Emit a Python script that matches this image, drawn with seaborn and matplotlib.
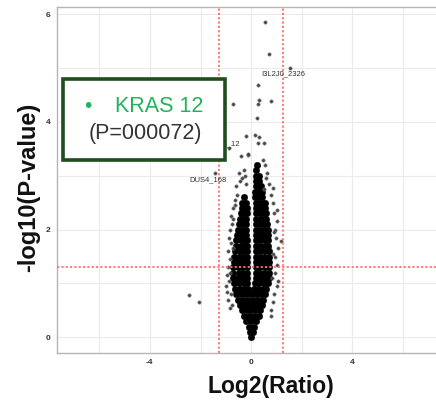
import numpy as np
import pandas as pd
import seaborn as sns
import matplotlib.pyplot as plt
from matplotlib.patches import Rectangle

## dense core of the volcano: one row of log2 ratios per -log10(p) level
core_y = [0.0, 0.1, 0.2, 0.3, 0.4, 0.5, 0.6, 0.7, 0.8, 0.9, 1.0, 1.1, 1.2, 1.3,
          1.4, 1.5, 1.6, 1.7, 1.8, 1.9, 2.0, 2.1, 2.2, 2.3, 2.4, 2.5, 2.6, 2.7,
          2.8, 2.9, 3.0, 3.1, 3.2]
core_x = [
    [0.0],
    [-0.05, 0.07],
    [-0.1, 0.1],
    [-0.2, 0.0, 0.2],
    [-0.28, -0.1, 0.1, 0.3],
    [-0.36, -0.18, 0.0, 0.18, 0.36],
    [-0.45, -0.25, -0.05, 0.15, 0.35, 0.42],
    [-0.52, -0.32, -0.12, 0.08, 0.28, 0.48],
    [-0.58, -0.4, -0.2, 0.0, 0.2, 0.4, 0.55],
    [-0.62, -0.45, -0.28, -0.12, 0.13, 0.28, 0.45, 0.6],
    [-0.66, -0.48, -0.3, -0.15, 0.16, 0.32, 0.5, 0.65],
    [-0.7, -0.52, -0.34, -0.17, 0.18, 0.34, 0.52, 0.7],
    [-0.7, -0.5, -0.32, -0.17, 0.18, 0.32, 0.5, 0.7],
    [-0.72, -0.54, -0.36, -0.18, 0.18, 0.36, 0.56, 0.72],
    [-0.68, -0.5, -0.32, -0.18, 0.18, 0.32, 0.5, 0.7],
    [-0.66, -0.48, -0.32, -0.18, 0.18, 0.34, 0.52, 0.7],
    [-0.62, -0.44, -0.3, -0.18, 0.18, 0.36, 0.54, 0.7],
    [-0.6, -0.42, -0.3, -0.18, 0.18, 0.34, 0.52, 0.68],
    [-0.58, -0.42, -0.3, -0.18, 0.18, 0.36, 0.54, 0.68],
    [-0.55, -0.38, -0.22, 0.18, 0.34, 0.5, 0.65],
    [-0.52, -0.36, -0.22, 0.18, 0.35, 0.52, 0.66],
    [-0.5, -0.34, -0.2, 0.18, 0.33, 0.5, 0.62],
    [-0.46, -0.32, -0.19, 0.19, 0.34, 0.5, 0.6],
    [-0.42, -0.28, -0.17, 0.19, 0.33, 0.48, 0.58],
    [-0.38, -0.25, -0.15, 0.19, 0.34, 0.48, 0.56],
    [-0.35, -0.2, 0.19, 0.32, 0.46, 0.55],
    [-0.3, 0.17, 0.3, 0.44],
    [0.17, 0.3, 0.42],
    [0.18, 0.3, 0.4],
    [0.18, 0.3],
    [0.2, 0.3],
    [0.2],
    [0.22],
]

## sparse points around the core
fringe_x = [-0.85, -0.9, -0.95, -1.0, -0.88, -0.95, -0.9, -0.85, -0.92, -0.8,
            -0.88, -0.83, -0.75, -0.78, -0.7, -0.65, -0.55, -0.6, -0.45, -0.35,
            -0.5, -0.3, -0.2, -0.25, -0.62, -0.7, -0.8, -0.75, -0.82, -0.72,
            0.8, 0.85, 0.9, 1.0, 1.07, 0.95, 1.0, 0.95, 1.05, 1.17, 0.98, 0.95,
            1.0, 0.9, 1.0, 0.85, 0.8, 0.86, 0.7, 0.64, 0.55, 0.45, 0.6, 0.5,
            0.82, 0.88, 0.78, 0.9]
fringe_y = [0.55, 0.7, 0.85, 0.95, 1.05, 1.15, 1.3, 1.45, 1.6, 1.75,
            1.85, 2.0, 2.1, 2.25, 2.4, 2.55, 2.65, 2.8, 2.9, 2.95,
            3.05, 3.1, 2.85, 3.0, 2.45, 2.2, 0.8, 0.6, 1.2, 1.65,
            0.5, 0.65, 0.8, 0.95, 1.05, 1.2, 1.35, 1.5, 1.65, 1.79, 1.85, 2.0,
            2.15, 2.3, 2.36, 2.5, 2.65, 2.77, 2.85, 3.05, 3.2, 3.3, 2.95, 2.75,
            1.1, 1.55, 0.4, 1.95]

## isolated high / far points
top_x = [0.55, 0.71, 1.54, 0.25, 0.32, 0.25, 0.78, -0.72, 0.21, -0.21, 0.15,
         0.32, 0.28, 0.49, -0.86, -0.42, -0.11, -0.13, -1.42, -2.46, -2.06]
top_y = [5.85, 5.26, 5.0, 4.68, 4.4, 4.33, 4.39, 4.33, 4.07, 3.73, 3.75,
         3.72, 3.61, 3.61, 3.51, 3.36, 3.38, 3.4, 3.05, 0.78, 0.65]

## labelled proteins (text anchor, log2 ratio / -log10 p)
label_names = ["I3L2J0_2326", "DUS4_168", "KRAS_12"]
label_x = [1.28, -1.7, -0.43]
label_y = [4.89, 2.92, 3.59]
label_ha = ["center", "center", "right"]

p_cut = 1.3
fc_cut = 1.27

core = pd.DataFrame([(x, y) for y, xs in zip(core_y, core_x) for x in xs],
                    columns=["log2", "nlp"])
sparse = pd.DataFrame({"log2": fringe_x + top_x, "nlp": fringe_y + top_y})

sns.set_style("white")
plt.rcParams['font.family'] = ['Liberation Sans', 'DejaVu Sans']
plt.rcParams['axes.unicode_minus'] = False

fig = plt.figure(figsize=(4.36, 4.01), dpi=100)
ax = fig.add_axes([57 / 436, 1 - 353 / 401, 1 - 57 / 436, (353 - 7) / 401])

# grid every 2 on x, every 1 on y
for gx in range(-6, 8, 2):
    ax.axvline(gx, color="#ebebeb", lw=0.8, zorder=0)
for gy in range(0, 7):
    ax.axhline(gy, color="#ebebeb", lw=0.8, zorder=0)

sns.scatterplot(data=core, x="log2", y="nlp", ax=ax, s=23, color="black",
                edgecolor="black", linewidth=0.2, zorder=2, legend=False)
sns.scatterplot(data=sparse, x="log2", y="nlp", ax=ax, s=6, color="#333333",
                edgecolor="#808080", linewidth=0.4, alpha=0.9, zorder=2,
                legend=False)

dots = (0, (1.2, 1.2))
ax.axhline(p_cut, color="#ff6f6f", lw=1.3, ls=dots, zorder=3)
ax.axvline(-fc_cut, color="#ff6f6f", lw=1.3, ls=dots, zorder=3)
ax.axvline(fc_cut, color="#ff6f6f", lw=1.3, ls=dots, zorder=3)

for name, lx, ly, ha in zip(label_names, label_x, label_y, label_ha):
    ax.text(lx, ly, name, fontsize=5.5, color="#333333", ha=ha, va="center",
            zorder=4)

ax.set_xlim(-7.67, 7.3)
ax.set_ylim(-0.29, 6.13)
ax.set_xticks([-4, 0, 4])
ax.set_yticks([0, 2, 4, 6])
ax.tick_params(axis="both", length=3, width=0.8, color="#999999",
               labelsize=6, labelcolor="#333333", pad=1.5)
for lab in ax.get_xticklabels() + ax.get_yticklabels():
    lab.set_fontweight("bold")
for side in ["left", "bottom", "top"]:
    ax.spines[side].set_color("#b5b5b5")
    ax.spines[side].set_linewidth(1.0)
ax.spines["right"].set_visible(False)

ax.set_xlabel("Log2(Ratio)", fontsize=16.5, fontweight="bold", color="#111111")
ax.set_ylabel("-log10(P-value)", fontsize=17, fontweight="bold", color="#111111")
ax.xaxis.set_label_coords((271 - 57) / 379, -(375 - 353) / 346, transform=ax.transAxes)
ax.yaxis.set_label_coords(-(57 - 40) / 379, (353 - 187) / 346, transform=ax.transAxes)

# highlight box for KRAS
box = Rectangle((63 / 436, 1 - 160 / 401), (225 - 63) / 436, (160 - 79) / 401,
                transform=fig.transFigure, facecolor="white", edgecolor="#1e4d1e",
                linewidth=2.6, zorder=10)
fig.patches.append(box)
fig.text(88 / 436, 1 - 106 / 401, "•", fontsize=15, color="#22b35a",
         ha="center", va="center", zorder=11)
fig.text(159 / 436, 1 - 106 / 401, "KRAS 12", fontsize=15.5, color="#22b35a",
         ha="center", va="center", zorder=11)
fig.text(145 / 436, 1 - 133 / 401, "(P=000072)", fontsize=15.5, color="#333333",
         ha="center", va="center", zorder=11)

fig.savefig("out.png", dpi=100)
